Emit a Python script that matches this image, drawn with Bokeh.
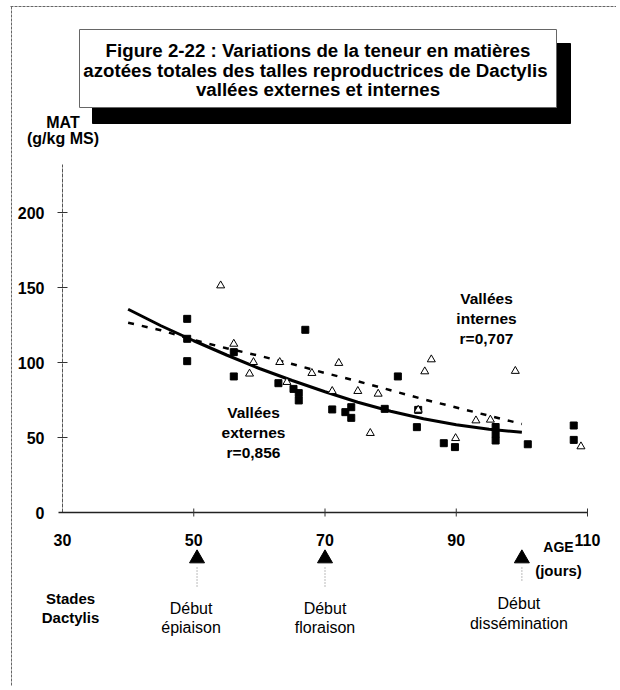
from bokeh.plotting import figure
from bokeh.models import Range1d, LinearAxis, FixedTicker
from bokeh.core.properties import value
from bokeh.embed import file_html
from bokeh.resources import INLINE

# ---------------- data ----------------
ext_age = [49.0, 49.0, 49.0, 56.1, 56.1, 62.9, 65.2, 66.0, 66.0, 67.0, 71.1, 73.1, 74.0,
           74.0, 79.1, 81.1, 84.0, 84.2, 88.1, 89.8, 96.0, 96.0, 96.0, 100.9, 107.9, 107.9]
ext_mat = [129.1, 115.8, 100.9, 106.9, 90.7, 86.2, 82.4, 79.6, 74.7, 121.8, 68.7, 66.9, 70.2,
           63.1, 69.1, 90.7, 56.9, 68.4, 46.2, 43.6, 57.0, 52.5, 48.0, 45.5, 58.0, 48.4]

int_age = [54.1, 56.1, 58.5, 59.1, 63.1, 64.2, 68.0, 71.1, 72.1, 75.0, 76.9, 78.1, 84.2,
           85.2, 86.2, 89.9, 93.0, 95.2, 99.0, 109.0]
int_mat = [151.3, 112.4, 92.5, 100.2, 100.2, 86.9, 92.9, 80.9, 99.6, 80.9, 52.9, 79.1, 68.4,
           94.0, 102.0, 49.5, 61.3, 61.8, 94.3, 44.0]

fit_age = [40, 45, 50, 55, 60, 65, 70, 75, 80, 85, 90, 95, 100]
fit_ext = [135.5, 124.5, 114.5, 105, 96, 88, 80.5, 73.5, 67.5, 62.5, 58.5, 55.5, 53.5]
fit_int = [126.5, 121.5, 115, 109.5, 104.5, 99, 93, 87.5, 81.5, 75.5, 70, 64.5, 59]

x_ticks = [30, 50, 70, 90, 110]
y_ticks = [0, 50, 100, 150, 200]
x_lim = (30, 110)
y_lim = (0, 232)

stage_age = [50.5, 70, 100]
stage_line1 = ["Début", "Début", "Début"]
stage_line2 = ["épiaison", "floraison", "dissémination"]

title_lines = ["Figure 2-22 : Variations de la teneur en matières",
               "azotées totales  des talles reproductrices de Dactylis",
               "vallées externes et internes"]

# ---------------- layout (page pixels; the figure starts at the page corner) ----------------
W, H = 616, 686
PX_L, PX_R = 62.0, 587.0   # page px of age 30 and 110
PY_0, PY_PER = 512.0, 1.5  # page px of MAT 0, px per unit
x_per = (PX_R - PX_L) / (x_lim[1] - x_lim[0])
x_start = x_lim[0] - PX_L / x_per
x_end = x_lim[0] + (W - PX_L) / x_per
y_start = (PY_0 - H) / PY_PER
y_end = PY_0 / PY_PER

FONT = value("Liberation Sans")

p = figure(width=W, height=H, output_backend="svg", toolbar_location=None,
           x_axis_type=None, y_axis_type=None,
           x_range=Range1d(x_start, x_end), y_range=Range1d(y_start, y_end),
           min_border=0)
p.outline_line_color = None
p.background_fill_color = "white"
p.border_fill_color = "white"
p.extra_x_ranges = {"px": Range1d(0, W)}
p.extra_y_ranges = {"px": Range1d(H, 0)}

# page frame lines of the scan
p.segment(x0=[10, 11], y0=[6, 6], x1=[W, 11], y1=[6, H],
          x_range_name="px", y_range_name="px",
          line_color="#666", line_width=1, line_dash="3 1")

# title box with black shadow
p.quad(left=[92], right=[570], top=[43], bottom=[123],
       x_range_name="px", y_range_name="px", fill_color="black", line_color="black")
p.quad(left=[79], right=[556], top=[29], bottom=[107],
       x_range_name="px", y_range_name="px", fill_color="white",
       line_color="#666", line_width=1)
p.text(x=[317.5, 317.5, 317.5], y=[50, 69.5, 89], text=title_lines,
       x_range_name="px", y_range_name="px",
       text_font=FONT, text_font_style="bold", text_font_size="18.7px",
       text_align="center", text_baseline="middle", text_color="black")

# y axis title
p.text(x=[62.5, 62.5], y=[122, 138], text=["MAT", "(g/kg MS)"],
       x_range_name="px", y_range_name="px",
       text_font=FONT, text_font_style="bold", text_font_size="16px",
       text_align="center", text_baseline="middle", text_color="black")

# axes (labels from Bokeh axes; rule and crossing ticks drawn below)
yaxis = LinearAxis(fixed_location=x_lim[0], bounds=y_lim, ticker=FixedTicker(ticks=y_ticks),
                   major_tick_in=5, major_tick_out=5, minor_tick_line_color=None,
                   major_label_standoff=13, axis_line_color=None, major_tick_line_color=None,
                   major_label_text_font="Liberation Sans", major_label_text_font_style="bold",
                   major_label_text_font_size="16px", major_label_text_color="black")
xaxis = LinearAxis(fixed_location=y_lim[0], bounds=x_lim, ticker=FixedTicker(ticks=x_ticks),
                   major_tick_in=3, major_tick_out=3, minor_tick_line_color=None,
                   major_label_standoff=18, axis_line_color=None, major_tick_line_color=None,
                   major_label_text_font="Liberation Sans", major_label_text_font_style="bold",
                   major_label_text_font_size="16px", major_label_text_color="black")
p.add_layout(yaxis, "left")
p.add_layout(xaxis, "below")

# axis rules
p.segment(x0=[x_lim[0]], y0=[y_lim[0]], x1=[x_lim[0]], y1=[y_lim[1]],
          line_color="#555", line_width=1, line_dash="4 1")
p.segment(x0=[x_lim[0] - 4 / x_per], y0=[y_lim[0]], x1=[x_lim[1]], y1=[y_lim[0]],
          line_color="#222", line_width=1.3)
# crossing ticks
p.segment(x0=[57] * 4, y0=y_ticks[1:], x1=[67] * 4, y1=y_ticks[1:], x_range_name="px",
          line_color="#333", line_width=1)
p.segment(x0=x_ticks[1:], y0=[PY_0 - 4] * 4, x1=x_ticks[1:], y1=[PY_0 + 4] * 4,
          y_range_name="px", line_color="#333", line_width=1)

# regression curves
p.line(fit_age, fit_ext, line_width=3, line_color="black")
p.line(fit_age, fit_int, line_width=2.5, line_color="black", line_dash="6 8")

# points
p.scatter(ext_age, ext_mat, marker="square", size=7, fill_color="black", line_color="black")
p.scatter(int_age, int_mat, marker="triangle", size=8, fill_color="white",
          line_color="black", line_width=1)

# series annotations
p.text(x=[486] * 3, y=[298, 318, 338], text=["Vallées", "internes", "r=0,707"],
       x_range_name="px", y_range_name="px",
       text_font=FONT, text_font_style="bold", text_font_size="15.5px",
       text_align="center", text_baseline="middle", text_color="black")
p.text(x=[253] * 3, y=[412, 432, 452], text=["Vallées", "externes", "r=0,856"],
       x_range_name="px", y_range_name="px",
       text_font=FONT, text_font_style="bold", text_font_size="15.5px",
       text_align="center", text_baseline="middle", text_color="black")

# x axis title
p.text(x=[558], y=[546], text=["AGE"], x_range_name="px", y_range_name="px",
       text_font=FONT, text_font_style="bold", text_font_size="14px",
       text_align="center", text_baseline="middle", text_color="black")
p.text(x=[558], y=[570], text=["(jours)"], x_range_name="px", y_range_name="px",
       text_font=FONT, text_font_style="bold", text_font_size="15px",
       text_align="center", text_baseline="middle", text_color="black")

# stage markers
p.scatter(x=stage_age, y=[558] * 3, y_range_name="px", marker="triangle", size=15,
          fill_color="black", line_color="black")
p.segment(x0=stage_age, y0=[567] * 3, x1=stage_age, y1=[588, 588, 580], y_range_name="px",
          line_color="#777", line_width=1, line_dash="1 2")
p.text(x=[70, 70], y=[598, 617], text=["Stades", "Dactylis"],
       x_range_name="px", y_range_name="px",
       text_font=FONT, text_font_style="bold", text_font_size="15px",
       text_align="center", text_baseline="middle", text_color="black")
p.text(x=stage_age, y=[608, 608, 603], text=stage_line1, y_range_name="px",
       x_offset=[-6, 0, -3],
       text_font=FONT, text_font_size="16px",
       text_align="center", text_baseline="middle", text_color="black")
p.text(x=stage_age, y=[627, 627, 623], text=stage_line2, y_range_name="px",
       x_offset=[-6, 0, -3],
       text_font=FONT, text_font_size="16px",
       text_align="center", text_baseline="middle", text_color="black")

open("out.html", "w").write(file_html(p, INLINE))
